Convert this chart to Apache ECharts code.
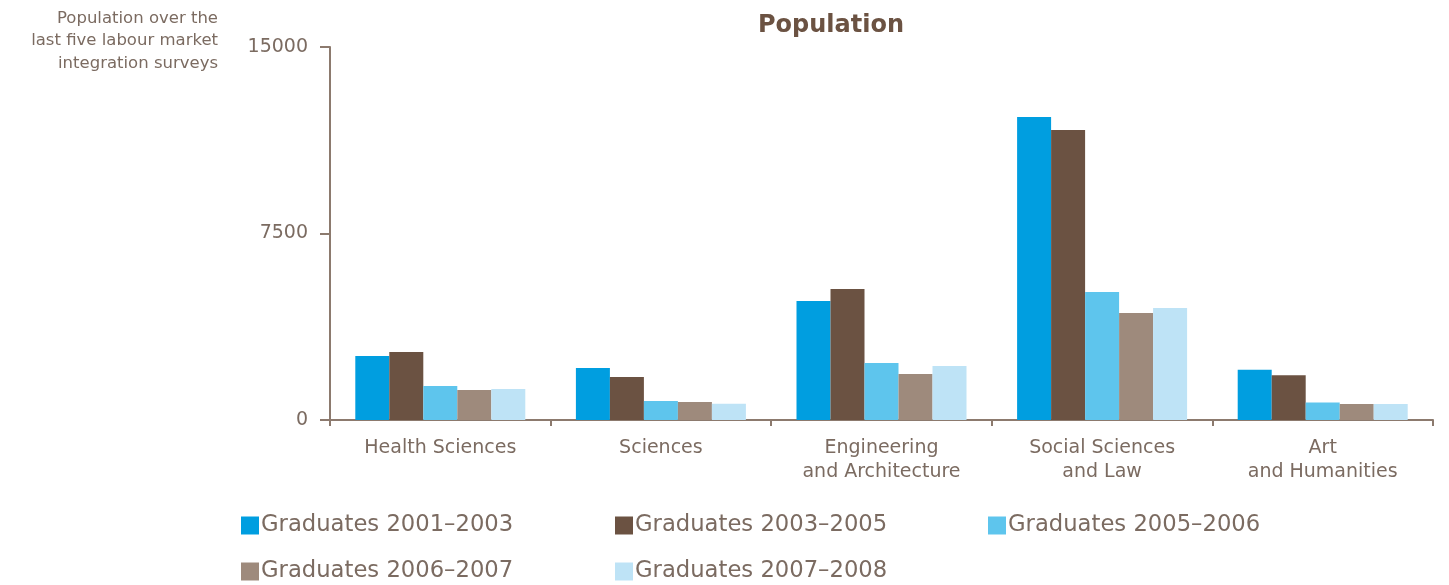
<!DOCTYPE html>
<html>
<head>
<meta charset="utf-8">
<script src="https://cdn.jsdelivr.net/npm/echarts@6/dist/echarts.min.js"></script>
<style>html,body{margin:0;padding:0;background:#fff;}#c{width:1449px;height:585px;}</style>
</head>
<body>
<div id="c"></div>
<script>
var categories = ['Health Sciences', 'Sciences', 'Engineering\nand Architecture', 'Social Sciences\nand Law', 'Art\nand Humanities'];
var seriesNames = ['Graduates 2001–2003', 'Graduates 2003–2005', 'Graduates 2005–2006', 'Graduates 2006–2007', 'Graduates 2007–2008'];
var grad2001 = [2570, 2090, 4790, 12190, 2020];
var grad2003 = [2730, 1730, 5270, 11660, 1800];
var grad2005 = [1370, 760, 2290, 5150, 700];
var grad2006 = [1210, 720, 1850, 4300, 640];
var grad2007 = [1250, 650, 2170, 4500, 640];
var yTicks = [0, 7500, 15000];
var colors = ['#009EE0', '#6B5242', '#5EC5ED', '#9E8A7C', '#BEE3F6'];
var values = [grad2001, grad2003, grad2005, grad2006, grad2007];

var textColor = '#7B6B61';
var axisColor = '#8C7A6E';
var font = 'DejaVu Sans';

var legendPos = [[241, 514], [615, 514], [988, 514], [241, 560], [615, 560]];
var legends = seriesNames.map(function (n, i) {
  return {
    data: [n], left: legendPos[i][0], top: legendPos[i][1],
    icon: 'rect', itemWidth: 18, itemHeight: 18, itemGap: 4,
    textStyle: { color: textColor, fontSize: 22.7, fontFamily: font, padding: [0, 0, 0, -3] },
    padding: 0
  };
});

var chart = echarts.init(document.getElementById('c'));
chart.setOption({
  animation: false,
  title: {
    text: 'Population', left: 753, top: 9,
    textStyle: { color: '#6B5242', fontSize: 24, fontWeight: 'bold', fontFamily: font }
  },
  graphic: [{
    type: 'text', x: 218, y: 7,
    style: {
      text: 'Population over the\nlast five labour market\nintegration surveys',
      align: 'right', verticalAlign: 'top', fill: textColor,
      fontSize: 16.5, fontFamily: font, lineHeight: 22.5
    }
  }],
  legend: legends,
  grid: { left: 330, right: 16, top: 47, bottom: 165, containLabel: false },
  xAxis: {
    type: 'category', data: categories,
    axisLine: { lineStyle: { color: axisColor, width: 2 } },
    axisTick: { show: true, length: 6, lineStyle: { color: axisColor, width: 2 } },
    axisLabel: { color: textColor, fontSize: 19, fontFamily: font, margin: 16, lineHeight: 24 }
  },
  yAxis: {
    type: 'value', min: 0, max: 15000, interval: 7500,
    axisLine: { show: true, lineStyle: { color: axisColor, width: 2 } },
    axisTick: { show: true, length: 10, lineStyle: { color: axisColor, width: 2 } },
    splitLine: { show: false },
    axisLabel: { color: textColor, fontSize: 19, fontFamily: font, margin: 22,
      formatter: function (v) { return yTicks.indexOf(v) >= 0 ? String(v) : ''; } }
  },
  series: seriesNames.map(function (n, i) {
    return {
      name: n, type: 'bar', data: values[i], barWidth: 34, barGap: '0%',
      itemStyle: { color: colors[i] }
    };
  })
});
</script>
</body>
</html>
